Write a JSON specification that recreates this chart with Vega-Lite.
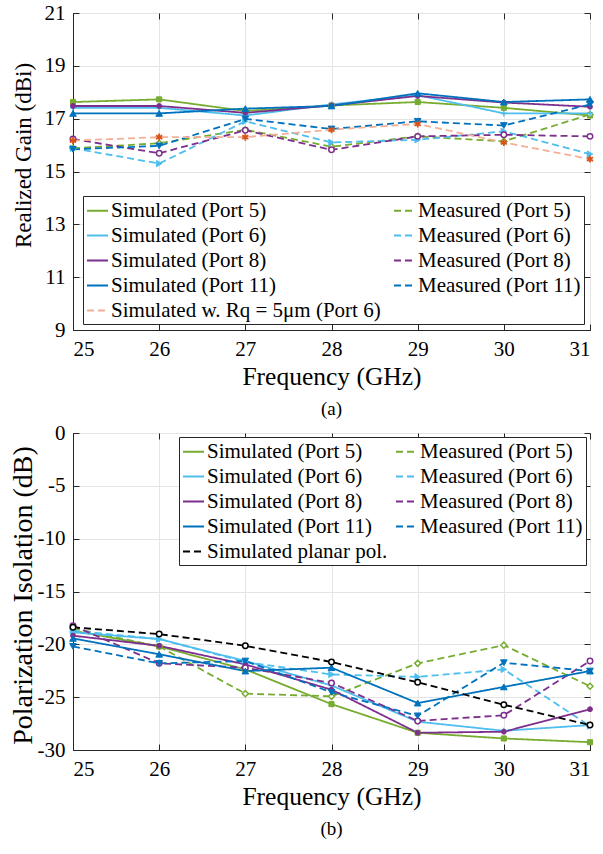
{
  "$schema": "https://vega.github.io/schema/vega-lite/v6.json",
  "padding": {"left": 8, "top": 1, "right": 0, "bottom": 0},
  "background": "white",
  "spacing": 2,
  "config": {
    "font": "Liberation Serif",
    "view": {"stroke": "#262626", "strokeWidth": 1},
    "axis": {
      "labelFont": "Liberation Serif", "titleFont": "Liberation Serif",
      "labelFontSize": 21, "titleFontSize": 25.5, "titleFontWeight": "normal",
      "labelColor": "#000000", "titleColor": "#000000",
      "gridColor": "#e4e4e4", "gridWidth": 1,
      "domainColor": "#262626", "tickColor": "#262626", "tickSize": -6, "labelPadding": 14
    },
    "title": {"font": "Liberation Serif", "fontWeight": "normal", "color": "#000000"}
  },
  "datasets": {
    "d": [
      {"p":"a","s":"Simulated (Port 5)","f":25,"v":17.63},{"p":"a","s":"Simulated (Port 5)","f":26,"v":17.73},{"p":"a","s":"Simulated (Port 5)","f":27,"v":17.29},{"p":"a","s":"Simulated (Port 5)","f":28,"v":17.50},{"p":"a","s":"Simulated (Port 5)","f":29,"v":17.63},{"p":"a","s":"Simulated (Port 5)","f":30,"v":17.41},{"p":"a","s":"Simulated (Port 5)","f":31,"v":17.12},
      {"p":"a","s":"Measured (Port 5)","f":25,"v":15.88},{"p":"a","s":"Measured (Port 5)","f":26,"v":16.07},{"p":"a","s":"Measured (Port 5)","f":27,"v":16.58},{"p":"a","s":"Measured (Port 5)","f":28,"v":15.94},{"p":"a","s":"Measured (Port 5)","f":29,"v":16.33},{"p":"a","s":"Measured (Port 5)","f":30,"v":16.14},{"p":"a","s":"Measured (Port 5)","f":31,"v":17.16},
      {"p":"a","s":"Simulated (Port 6)","f":25,"v":17.41},{"p":"a","s":"Simulated (Port 6)","f":26,"v":17.41},{"p":"a","s":"Simulated (Port 6)","f":27,"v":17.12},{"p":"a","s":"Simulated (Port 6)","f":28,"v":17.54},{"p":"a","s":"Simulated (Port 6)","f":29,"v":17.89},{"p":"a","s":"Simulated (Port 6)","f":30,"v":17.20},{"p":"a","s":"Simulated (Port 6)","f":31,"v":17.20},
      {"p":"a","s":"Measured (Port 6)","f":25,"v":15.88},{"p":"a","s":"Measured (Port 6)","f":26,"v":15.30},{"p":"a","s":"Measured (Port 6)","f":27,"v":16.90},{"p":"a","s":"Measured (Port 6)","f":28,"v":16.10},{"p":"a","s":"Measured (Port 6)","f":29,"v":16.20},{"p":"a","s":"Measured (Port 6)","f":30,"v":16.52},{"p":"a","s":"Measured (Port 6)","f":31,"v":15.66},
      {"p":"a","s":"Simulated (Port 8)","f":25,"v":17.48},{"p":"a","s":"Simulated (Port 8)","f":26,"v":17.48},{"p":"a","s":"Simulated (Port 8)","f":27,"v":17.22},{"p":"a","s":"Simulated (Port 8)","f":28,"v":17.50},{"p":"a","s":"Simulated (Port 8)","f":29,"v":17.86},{"p":"a","s":"Simulated (Port 8)","f":30,"v":17.61},{"p":"a","s":"Simulated (Port 8)","f":31,"v":17.45},
      {"p":"a","s":"Measured (Port 8)","f":25,"v":16.23},{"p":"a","s":"Measured (Port 8)","f":26,"v":15.69},{"p":"a","s":"Measured (Port 8)","f":27,"v":16.56},{"p":"a","s":"Measured (Port 8)","f":28,"v":15.82},{"p":"a","s":"Measured (Port 8)","f":29,"v":16.33},{"p":"a","s":"Measured (Port 8)","f":30,"v":16.39},{"p":"a","s":"Measured (Port 8)","f":31,"v":16.33},
      {"p":"a","s":"Simulated (Port 11)","f":25,"v":17.20},{"p":"a","s":"Simulated (Port 11)","f":26,"v":17.20},{"p":"a","s":"Simulated (Port 11)","f":27,"v":17.38},{"p":"a","s":"Simulated (Port 11)","f":28,"v":17.48},{"p":"a","s":"Simulated (Port 11)","f":29,"v":17.96},{"p":"a","s":"Simulated (Port 11)","f":30,"v":17.63},{"p":"a","s":"Simulated (Port 11)","f":31,"v":17.73},
      {"p":"a","s":"Measured (Port 11)","f":25,"v":15.84},{"p":"a","s":"Measured (Port 11)","f":26,"v":15.97},{"p":"a","s":"Measured (Port 11)","f":27,"v":16.99},{"p":"a","s":"Measured (Port 11)","f":28,"v":16.61},{"p":"a","s":"Measured (Port 11)","f":29,"v":16.90},{"p":"a","s":"Measured (Port 11)","f":30,"v":16.74},{"p":"a","s":"Measured (Port 11)","f":31,"v":17.54},
      {"p":"a","s":"Simulated w. Rq = 5μm (Port 6)","f":25,"v":16.17},{"p":"a","s":"Simulated w. Rq = 5μm (Port 6)","f":26,"v":16.30},{"p":"a","s":"Simulated w. Rq = 5μm (Port 6)","f":27,"v":16.30},{"p":"a","s":"Simulated w. Rq = 5μm (Port 6)","f":28,"v":16.58},{"p":"a","s":"Simulated w. Rq = 5μm (Port 6)","f":29,"v":16.80},{"p":"a","s":"Simulated w. Rq = 5μm (Port 6)","f":30,"v":16.10},{"p":"a","s":"Simulated w. Rq = 5μm (Port 6)","f":31,"v":15.47},
      {"p":"b","s":"Simulated (Port 5)","f":25,"v":-18.71},{"p":"b","s":"Simulated (Port 5)","f":26,"v":-20.20},{"p":"b","s":"Simulated (Port 5)","f":27,"v":-22.37},{"p":"b","s":"Simulated (Port 5)","f":28,"v":-25.66},{"p":"b","s":"Simulated (Port 5)","f":29,"v":-28.37},{"p":"b","s":"Simulated (Port 5)","f":30,"v":-28.91},{"p":"b","s":"Simulated (Port 5)","f":31,"v":-29.26},
      {"p":"b","s":"Measured (Port 5)","f":25,"v":-18.48},{"p":"b","s":"Measured (Port 5)","f":26,"v":-20.20},{"p":"b","s":"Measured (Port 5)","f":27,"v":-24.67},{"p":"b","s":"Measured (Port 5)","f":28,"v":-24.92},{"p":"b","s":"Measured (Port 5)","f":29,"v":-21.80},{"p":"b","s":"Measured (Port 5)","f":30,"v":-20.08},{"p":"b","s":"Measured (Port 5)","f":31,"v":-23.97},
      {"p":"b","s":"Simulated (Port 6)","f":25,"v":-18.87},{"p":"b","s":"Simulated (Port 6)","f":26,"v":-19.50},{"p":"b","s":"Simulated (Port 6)","f":27,"v":-21.58},{"p":"b","s":"Simulated (Port 6)","f":28,"v":-23.90},{"p":"b","s":"Simulated (Port 6)","f":29,"v":-27.32},{"p":"b","s":"Simulated (Port 6)","f":30,"v":-28.18},{"p":"b","s":"Simulated (Port 6)","f":31,"v":-27.64},
      {"p":"b","s":"Measured (Port 6)","f":25,"v":-18.71},{"p":"b","s":"Measured (Port 6)","f":26,"v":-19.50},{"p":"b","s":"Measured (Port 6)","f":27,"v":-21.67},{"p":"b","s":"Measured (Port 6)","f":28,"v":-22.85},{"p":"b","s":"Measured (Port 6)","f":29,"v":-23.08},{"p":"b","s":"Measured (Port 6)","f":30,"v":-22.37},{"p":"b","s":"Measured (Port 6)","f":31,"v":-27.73},
      {"p":"b","s":"Simulated (Port 8)","f":25,"v":-19.18},{"p":"b","s":"Simulated (Port 8)","f":26,"v":-20.14},{"p":"b","s":"Simulated (Port 8)","f":27,"v":-21.90},{"p":"b","s":"Simulated (Port 8)","f":28,"v":-24.29},{"p":"b","s":"Simulated (Port 8)","f":29,"v":-28.37},{"p":"b","s":"Simulated (Port 8)","f":30,"v":-28.27},{"p":"b","s":"Simulated (Port 8)","f":31,"v":-26.14},
      {"p":"b","s":"Measured (Port 8)","f":25,"v":-18.23},{"p":"b","s":"Measured (Port 8)","f":26,"v":-21.80},{"p":"b","s":"Measured (Port 8)","f":27,"v":-22.21},{"p":"b","s":"Measured (Port 8)","f":28,"v":-23.65},{"p":"b","s":"Measured (Port 8)","f":29,"v":-27.25},{"p":"b","s":"Measured (Port 8)","f":30,"v":-26.71},{"p":"b","s":"Measured (Port 8)","f":31,"v":-21.58},
      {"p":"b","s":"Simulated (Port 11)","f":25,"v":-19.44},{"p":"b","s":"Simulated (Port 11)","f":26,"v":-20.94},{"p":"b","s":"Simulated (Port 11)","f":27,"v":-22.53},{"p":"b","s":"Simulated (Port 11)","f":28,"v":-22.21},{"p":"b","s":"Simulated (Port 11)","f":29,"v":-25.56},{"p":"b","s":"Simulated (Port 11)","f":30,"v":-24.03},{"p":"b","s":"Simulated (Port 11)","f":31,"v":-22.53},
      {"p":"b","s":"Measured (Port 11)","f":25,"v":-20.20},{"p":"b","s":"Measured (Port 11)","f":26,"v":-21.80},{"p":"b","s":"Measured (Port 11)","f":27,"v":-21.58},{"p":"b","s":"Measured (Port 11)","f":28,"v":-24.54},{"p":"b","s":"Measured (Port 11)","f":29,"v":-26.77},{"p":"b","s":"Measured (Port 11)","f":30,"v":-21.74},{"p":"b","s":"Measured (Port 11)","f":31,"v":-22.53},
      {"p":"b","s":"Simulated planar pol.","f":25,"v":-18.39},{"p":"b","s":"Simulated planar pol.","f":26,"v":-19.03},{"p":"b","s":"Simulated planar pol.","f":27,"v":-20.14},{"p":"b","s":"Simulated planar pol.","f":28,"v":-21.67},{"p":"b","s":"Simulated planar pol.","f":29,"v":-23.59},{"p":"b","s":"Simulated planar pol.","f":30,"v":-25.72},{"p":"b","s":"Simulated planar pol.","f":31,"v":-27.64}
    ]
  },
  "vconcat": [
    {
      "width": 517, "height": 317,
      "title": {"text": "(a)", "orient": "bottom", "fontSize": 19, "offset": 10, "frame": "group", "anchor": "middle"},
      "data": {"name": "d"},
      "transform": [{"filter": "datum.p == 'a'"}],
      "layer": [
        {
          "mark": {"type": "line", "strokeWidth": 1.8},
          "encoding": {
            "x": {"field": "f", "type": "quantitative", "scale": {"domain": [25, 31], "nice": false}, "axis": {"values": [25,26,27,28,29,30,31], "title": "Frequency (GHz)", "titlePadding": 5}},
            "y": {"field": "v", "type": "quantitative", "scale": {"domain": [9, 21], "nice": false, "zero": false}, "axis": {"values": [9,11,13,15,17,19,21], "title": "Realized Gain (dBi)", "titleFontSize": 23, "titleX": -38, "titleY": 142, "titleBaseline": "bottom", "titleAngle": 270}},
            "color": {"field": "s", "type": "nominal",
              "legend": {"orient": "none", "legendX": 10, "legendY": 183, "title": null, "columns": 2, "direction": "vertical", "gridAlign": "each", "columnPadding": 9, "rowPadding": 3, "padding": 3, "labelOffset": 2, "symbolType": "stroke", "symbolSize": 441, "symbolStrokeWidth": 2, "labelFontSize": 21, "labelFont": "Liberation Serif", "labelColor": "#000000", "strokeColor": "#262626", "fillColor": "#ffffff", "labelLimit": 400},
              "scale": {"domain": ["Simulated (Port 5)","Simulated (Port 6)","Simulated (Port 8)","Simulated (Port 11)","Simulated w. Rq = 5μm (Port 6)","Measured (Port 5)","Measured (Port 6)","Measured (Port 8)","Measured (Port 11)"], "range": ["#77AC30","#4DBEEE","#7E2F8E","#0072BD","#F2B096","#77AC30","#4DBEEE","#7E2F8E","#0072BD"]}},
            "strokeDash": {"field": "s", "type": "nominal",
              "legend": {"orient": "none", "legendX": 10, "legendY": 183, "title": null, "columns": 2, "direction": "vertical", "gridAlign": "each", "columnPadding": 9, "rowPadding": 3, "padding": 3, "labelOffset": 2, "symbolType": "stroke", "symbolSize": 441, "symbolStrokeWidth": 2, "labelFontSize": 21, "labelFont": "Liberation Serif", "labelColor": "#000000", "strokeColor": "#262626", "fillColor": "#ffffff", "labelLimit": 400},
              "scale": {"domain": ["Simulated (Port 5)","Simulated (Port 6)","Simulated (Port 8)","Simulated (Port 11)","Simulated w. Rq = 5μm (Port 6)","Measured (Port 5)","Measured (Port 6)","Measured (Port 8)","Measured (Port 11)"], "range": [[1,0],[1,0],[1,0],[1,0],[7,4],[7,4],[7,4],[7,4],[7,4]]}}
          }
        },
        {"transform": [{"filter": "datum.s == 'Simulated (Port 5)'"}], "mark": {"type": "point", "shape": "square", "filled": true, "fill": "#77AC30", "stroke": "#77AC30", "opacity": 1, "size": 26, "strokeWidth": 1}, "encoding": {"x": {"field": "f", "type": "quantitative", "axis": null}, "y": {"field": "v", "type": "quantitative", "axis": null}}},
        {"transform": [{"filter": "datum.s == 'Measured (Port 5)'"}], "mark": {"type": "point", "shape": "diamond", "filled": true, "fill": "#ffffff", "stroke": "#77AC30", "opacity": 1, "size": 36, "strokeWidth": 1.5}, "encoding": {"x": {"field": "f", "type": "quantitative", "axis": null}, "y": {"field": "v", "type": "quantitative", "axis": null}}},
        {"transform": [{"filter": "datum.s == 'Simulated (Port 6)'"}], "mark": {"type": "point", "shape": "M-1,0H1M0,-1V1", "filled": true, "fill": "#4DBEEE", "stroke": "#4DBEEE", "opacity": 1, "size": 36, "strokeWidth": 1.5}, "encoding": {"x": {"field": "f", "type": "quantitative", "axis": null}, "y": {"field": "v", "type": "quantitative", "axis": null}}},
        {"transform": [{"filter": "datum.s == 'Measured (Port 6)'"}], "mark": {"type": "point", "shape": "triangle-right", "filled": true, "fill": "#4DBEEE", "stroke": "#4DBEEE", "opacity": 1, "size": 40, "strokeWidth": 1}, "encoding": {"x": {"field": "f", "type": "quantitative", "axis": null}, "y": {"field": "v", "type": "quantitative", "axis": null}}},
        {"transform": [{"filter": "datum.s == 'Simulated (Port 8)'"}], "mark": {"type": "point", "shape": "circle", "filled": true, "fill": "#7E2F8E", "stroke": "#7E2F8E", "opacity": 1, "size": 24, "strokeWidth": 1}, "encoding": {"x": {"field": "f", "type": "quantitative", "axis": null}, "y": {"field": "v", "type": "quantitative", "axis": null}}},
        {"transform": [{"filter": "datum.s == 'Measured (Port 8)'"}], "mark": {"type": "point", "shape": "circle", "filled": true, "fill": "#ffffff", "stroke": "#7E2F8E", "opacity": 1, "size": 30, "strokeWidth": 1.5}, "encoding": {"x": {"field": "f", "type": "quantitative", "axis": null}, "y": {"field": "v", "type": "quantitative", "axis": null}}},
        {"transform": [{"filter": "datum.s == 'Simulated (Port 11)'"}], "mark": {"type": "point", "shape": "triangle-up", "filled": true, "fill": "#0072BD", "stroke": "#0072BD", "opacity": 1, "size": 44, "strokeWidth": 1}, "encoding": {"x": {"field": "f", "type": "quantitative", "axis": null}, "y": {"field": "v", "type": "quantitative", "axis": null}}},
        {"transform": [{"filter": "datum.s == 'Measured (Port 11)'"}], "mark": {"type": "point", "shape": "triangle-down", "filled": true, "fill": "#0072BD", "stroke": "#0072BD", "opacity": 1, "size": 44, "strokeWidth": 1}, "encoding": {"x": {"field": "f", "type": "quantitative", "axis": null}, "y": {"field": "v", "type": "quantitative", "axis": null}}},
        {"transform": [{"filter": "datum.s == 'Simulated w. Rq = 5μm (Port 6)'"}], "mark": {"type": "point", "shape": "M0,-1V1M-0.87,-0.5L0.87,0.5M-0.87,0.5L0.87,-0.5", "filled": true, "fill": "#D95319", "stroke": "#D95319", "opacity": 1, "size": 50, "strokeWidth": 1.8}, "encoding": {"x": {"field": "f", "type": "quantitative", "axis": null}, "y": {"field": "v", "type": "quantitative", "axis": null}}},
        {
          "mark": {"type": "rule", "opacity": 0},
          "encoding": {
            "x": {"field": "f", "type": "quantitative", "axis": {"orient": "top", "labels": false, "title": null, "grid": false, "domain": false, "values": [25,26,27,28,29,30,31]}},
            "y": {"field": "v", "type": "quantitative", "axis": {"orient": "right", "labels": false, "title": null, "grid": false, "domain": false, "values": [9,11,13,15,17,19,21]}}
          }
        }
      ],
      "resolve": {"axis": {"x": "independent", "y": "independent"}}
    },
    {
      "width": 517, "height": 317,
      "title": {"text": "(b)", "orient": "bottom", "fontSize": 19, "offset": 10, "frame": "group", "anchor": "middle"},
      "data": {"name": "d"},
      "transform": [{"filter": "datum.p == 'b'"}],
      "layer": [
        {
          "mark": {"type": "line", "strokeWidth": 1.8},
          "encoding": {
            "x": {"field": "f", "type": "quantitative", "scale": {"domain": [25, 31], "nice": false}, "axis": {"values": [25,26,27,28,29,30,31], "title": "Frequency (GHz)", "titlePadding": 5}},
            "y": {"field": "v", "type": "quantitative", "scale": {"domain": [-30, 0], "nice": false, "zero": false}, "axis": {"values": [-30,-25,-20,-15,-10,-5,0], "labelExpr": "toString(datum.value)", "title": "Polarization Isolation (dB)", "titleFontSize": 28, "titleX": -36, "titleY": 162, "titleBaseline": "bottom", "titleAngle": 270}},
            "color": {"field": "s", "type": "nominal",
              "legend": {"orient": "none", "legendX": 106, "legendY": 4, "title": null, "columns": 2, "direction": "vertical", "gridAlign": "each", "columnPadding": 4, "rowPadding": 3, "padding": 3, "labelOffset": 2, "symbolType": "stroke", "symbolSize": 441, "symbolStrokeWidth": 2, "labelFontSize": 21, "labelFont": "Liberation Serif", "labelColor": "#000000", "strokeColor": "#262626", "fillColor": "#ffffff", "labelLimit": 400},
              "scale": {"domain": ["Simulated (Port 5)","Simulated (Port 6)","Simulated (Port 8)","Simulated (Port 11)","Simulated planar pol.","Measured (Port 5)","Measured (Port 6)","Measured (Port 8)","Measured (Port 11)"], "range": ["#77AC30","#4DBEEE","#7E2F8E","#0072BD","#000000","#77AC30","#4DBEEE","#7E2F8E","#0072BD"]}},
            "strokeDash": {"field": "s", "type": "nominal",
              "legend": {"orient": "none", "legendX": 106, "legendY": 4, "title": null, "columns": 2, "direction": "vertical", "gridAlign": "each", "columnPadding": 4, "rowPadding": 3, "padding": 3, "labelOffset": 2, "symbolType": "stroke", "symbolSize": 441, "symbolStrokeWidth": 2, "labelFontSize": 21, "labelFont": "Liberation Serif", "labelColor": "#000000", "strokeColor": "#262626", "fillColor": "#ffffff", "labelLimit": 400},
              "scale": {"domain": ["Simulated (Port 5)","Simulated (Port 6)","Simulated (Port 8)","Simulated (Port 11)","Simulated planar pol.","Measured (Port 5)","Measured (Port 6)","Measured (Port 8)","Measured (Port 11)"], "range": [[1,0],[1,0],[1,0],[1,0],[7,4],[7,4],[7,4],[7,4],[7,4]]}}
          }
        },
        {"transform": [{"filter": "datum.s == 'Simulated (Port 5)'"}], "mark": {"type": "point", "shape": "square", "filled": true, "fill": "#77AC30", "stroke": "#77AC30", "opacity": 1, "size": 26, "strokeWidth": 1}, "encoding": {"x": {"field": "f", "type": "quantitative", "axis": null}, "y": {"field": "v", "type": "quantitative", "axis": null}}},
        {"transform": [{"filter": "datum.s == 'Measured (Port 5)'"}], "mark": {"type": "point", "shape": "diamond", "filled": true, "fill": "#ffffff", "stroke": "#77AC30", "opacity": 1, "size": 36, "strokeWidth": 1.5}, "encoding": {"x": {"field": "f", "type": "quantitative", "axis": null}, "y": {"field": "v", "type": "quantitative", "axis": null}}},
        {"transform": [{"filter": "datum.s == 'Simulated (Port 6)'"}], "mark": {"type": "point", "shape": "M-1,0H1M0,-1V1", "filled": true, "fill": "#4DBEEE", "stroke": "#4DBEEE", "opacity": 1, "size": 36, "strokeWidth": 1.5}, "encoding": {"x": {"field": "f", "type": "quantitative", "axis": null}, "y": {"field": "v", "type": "quantitative", "axis": null}}},
        {"transform": [{"filter": "datum.s == 'Measured (Port 6)'"}], "mark": {"type": "point", "shape": "triangle-right", "filled": true, "fill": "#4DBEEE", "stroke": "#4DBEEE", "opacity": 1, "size": 40, "strokeWidth": 1}, "encoding": {"x": {"field": "f", "type": "quantitative", "axis": null}, "y": {"field": "v", "type": "quantitative", "axis": null}}},
        {"transform": [{"filter": "datum.s == 'Simulated (Port 8)'"}], "mark": {"type": "point", "shape": "circle", "filled": true, "fill": "#7E2F8E", "stroke": "#7E2F8E", "opacity": 1, "size": 24, "strokeWidth": 1}, "encoding": {"x": {"field": "f", "type": "quantitative", "axis": null}, "y": {"field": "v", "type": "quantitative", "axis": null}}},
        {"transform": [{"filter": "datum.s == 'Measured (Port 8)'"}], "mark": {"type": "point", "shape": "circle", "filled": true, "fill": "#ffffff", "stroke": "#7E2F8E", "opacity": 1, "size": 30, "strokeWidth": 1.5}, "encoding": {"x": {"field": "f", "type": "quantitative", "axis": null}, "y": {"field": "v", "type": "quantitative", "axis": null}}},
        {"transform": [{"filter": "datum.s == 'Simulated (Port 11)'"}], "mark": {"type": "point", "shape": "triangle-up", "filled": true, "fill": "#0072BD", "stroke": "#0072BD", "opacity": 1, "size": 44, "strokeWidth": 1}, "encoding": {"x": {"field": "f", "type": "quantitative", "axis": null}, "y": {"field": "v", "type": "quantitative", "axis": null}}},
        {"transform": [{"filter": "datum.s == 'Measured (Port 11)'"}], "mark": {"type": "point", "shape": "triangle-down", "filled": true, "fill": "#0072BD", "stroke": "#0072BD", "opacity": 1, "size": 44, "strokeWidth": 1}, "encoding": {"x": {"field": "f", "type": "quantitative", "axis": null}, "y": {"field": "v", "type": "quantitative", "axis": null}}},
        {"transform": [{"filter": "datum.s == 'Simulated planar pol.'"}], "mark": {"type": "point", "shape": "circle", "filled": true, "fill": "#ffffff", "stroke": "#000000", "opacity": 1, "size": 30, "strokeWidth": 1.5}, "encoding": {"x": {"field": "f", "type": "quantitative", "axis": null}, "y": {"field": "v", "type": "quantitative", "axis": null}}},
        {
          "mark": {"type": "rule", "opacity": 0},
          "encoding": {
            "x": {"field": "f", "type": "quantitative", "axis": {"orient": "top", "labels": false, "title": null, "grid": false, "domain": false, "values": [25,26,27,28,29,30,31]}},
            "y": {"field": "v", "type": "quantitative", "axis": {"orient": "right", "labels": false, "title": null, "grid": false, "domain": false, "values": [-30,-25,-20,-15,-10,-5,0]}}
          }
        }
      ],
      "resolve": {"axis": {"x": "independent", "y": "independent"}}
    }
  ],
  "resolve": {
    "scale": {"color": "independent", "strokeDash": "independent", "y": "independent"},
    "legend": {"color": "independent", "strokeDash": "independent"}
  }
}
